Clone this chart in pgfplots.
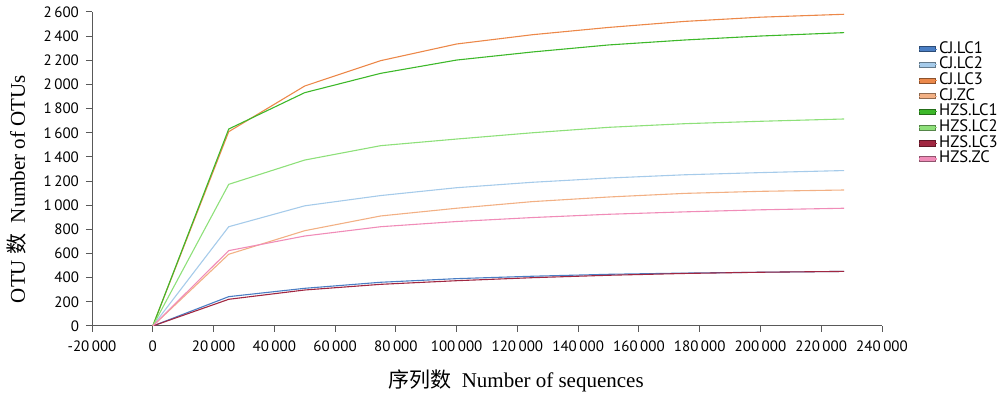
\documentclass[border=0pt]{standalone}
\usepackage{fontspec}
\setmainfont{Liberation Serif}
\newfontfamily\cjk{Noto Sans CJK SC}
\newfontfamily\ticksf{PT Sans}
\usepackage{pgfplots}
\usepackage{pgfplotstable}
\pgfplotsset{compat=1.18}
\definecolor{cA}{HTML}{4A7EC4}
\definecolor{cB}{HTML}{A6CBEA}
\definecolor{cC}{HTML}{E8732A}
\definecolor{cD}{HTML}{F2B084}
\definecolor{cE}{HTML}{3DB82A}
\definecolor{cF}{HTML}{8EE07A}
\definecolor{cG}{HTML}{B0182A}
\definecolor{cH}{HTML}{F08CB8}
\pgfplotstableread{
x      a    b    c    d    e    f    g    h
0      0    0    0    0    0    0    0    0
25000  243  822  1609 594  1631 1173 221  624
50000  312  995  1987 789  1932 1374 298  745
75000  362  1080 2197 911  2092 1493 345  822
100000 392  1145 2335 975  2202 1548 375  865
125000 412  1190 2412 1030 2269 1600 400  898
150000 428  1225 2472 1068 2327 1645 420  925
175000 438  1252 2522 1098 2368 1675 435  945
200000 445  1270 2557 1115 2401 1695 445  962
227500 452  1287 2581 1126 2429 1714 452  975
}\data
\begin{document}
\begin{tikzpicture}
\path[use as bounding box] (0,0) rectangle (500pt,199.5pt);
\begin{axis}[
  at={(46pt,36.5pt)}, anchor=south west,
  scale only axis, width=395pt, height=157pt,
  xmin=-20000, xmax=240000, ymin=0, ymax=2600,
  axis lines*=left,
  scaled ticks=false,
  xtick={-20000,0,...,240000}, ytick={0,200,...,2600},
  xticklabels={-20\,000,0,20\,000,40\,000,60\,000,80\,000,100\,000,120\,000,140\,000,160\,000,180\,000,200\,000,220\,000,240\,000},
  yticklabels={0,200,400,600,800,1\,000,1\,200,1\,400,1\,600,1\,800,2\,000,2\,200,2\,400,2\,600},
  tick align=outside, major tick length=3pt,
  tick style={black!65, line width=0.5pt},
  axis line style={black!65, line width=0.5pt},
  ticklabel style={font=\ticksf\fontsize{7.5}{9}\selectfont},
  xticklabel style={yshift=-1pt},
  every axis plot/.append style={line width=0.55pt, no marks},
  legend style={at={(1.0456,0.908)}, anchor=north west, draw=none, fill=none,
    font=\ticksf\fontsize{8.3}{9}\selectfont, row sep=0pt, inner sep=0pt,
    nodes={inner sep=0.6pt, text height=5.3pt, text depth=1.35pt}},
  legend cell align=left,
  legend image code/.code={\path[fill=., draw=.!60!black, line width=0.4pt] (0pt,-1.3pt) rectangle (8pt,1.3pt);\path (0pt,0pt) -- (9.2pt,0pt);},
]
\addplot[cA] table[x=x,y=a]{\data};
\addplot[cB] table[x=x,y=b]{\data};
\addplot[cC!65!cD] table[x=x,y=c]{\data};
\addplot[cD] table[x=x,y=d]{\data};
\addplot[cE] table[x=x,y=e]{\data};
\addplot[cF] table[x=x,y=f]{\data};
\addplot[cG!85!cA] table[x=x,y=g]{\data};
\addplot[cH] table[x=x,y=h]{\data};
\legend{CJ.LC1,CJ.LC2,CJ.LC3,CJ.ZC,HZS.LC1,HZS.LC2,HZS.LC3,HZS.ZC}
\end{axis}
\node[rotate=90, font=\fontsize{10.5}{12}\selectfont] at (8.5pt,105pt) {OTU {\cjk 数}\ \ Number of OTUs};
\node[anchor=base, font=\fontsize{10.5}{12}\selectfont] at (258pt,5.5pt) {{\cjk 序列数}\ \ Number of sequences};
\end{tikzpicture}
\end{document}
